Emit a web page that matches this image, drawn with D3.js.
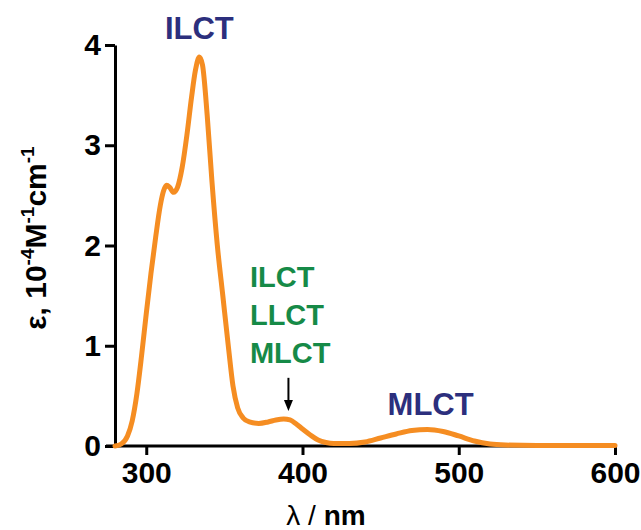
<!DOCTYPE html>
<html>
<head>
<meta charset="utf-8">
<script src="https://cdn.jsdelivr.net/npm/d3@7"></script>
<style>
  html, body { margin: 0; padding: 0; background: #fff; }
  svg { display: block; font-family: "Liberation Sans", Arial, Helvetica, sans-serif; }
</style>
</head>
<body>
<svg id="chart" width="641" height="530"></svg>
<script>
// ---- data ----
const wavelength = [280, 284, 288, 291, 294, 297, 300, 303, 306, 309, 311, 313, 315, 317.5, 320, 323, 326, 329, 331.5, 334, 336, 339, 342, 345.5, 349, 352.5, 355.5, 358.5, 362, 366, 372, 378, 383, 388, 392, 396, 400, 405, 410, 415, 420, 430, 440, 450, 460, 470, 480, 490, 500, 510, 520, 530, 550, 600];
const epsilon    = [0.00, 0.02, 0.10, 0.25, 0.52, 0.90, 1.32, 1.72, 2.08, 2.40, 2.54, 2.60, 2.58, 2.53, 2.58, 2.78, 3.10, 3.48, 3.75, 3.88, 3.80, 3.30, 2.65, 2.00, 1.50, 1.00, 0.60, 0.38, 0.28, 0.24, 0.225, 0.24, 0.26, 0.27, 0.26, 0.22, 0.17, 0.11, 0.06, 0.035, 0.025, 0.025, 0.04, 0.08, 0.12, 0.155, 0.165, 0.145, 0.10, 0.05, 0.02, 0.01, 0.005, 0.005];

const xTicks = [300, 400, 500, 600];
const yTicks = [0, 1, 2, 3, 4];

const blueLabels  = [{text: "ILCT", x: 334, y: 4.06}, {text: "MLCT", x: 482, y: 0.31}];
const greenLines  = ["ILCT", "LLCT", "MLCT"];
const greenAnchor = {x: 367, y: 1.59};
const arrowData   = {x: 391, from: 0.68, to: 0.35};

// ---- layout ----
const svg = d3.select("#chart");
const x = d3.scaleLinear().domain([280, 600]).range([115, 615]);
const y = d3.scaleLinear().domain([0, 4]).range([446, 45]);

const BLUE = "#2c2f7d", GREEN = "#168a47", ORANGE = "#f58d22";

// axes
const xAxis = svg.append("g").attr("transform", `translate(0,${y(0)})`)
  .call(d3.axisBottom(x).tickValues(xTicks).tickFormat(d3.format("d")).tickSize(9).tickPadding(7).tickSizeOuter(0));
const yAxis = svg.append("g").attr("transform", `translate(${x(280)},0)`)
  .call(d3.axisLeft(y).tickValues(yTicks).tickFormat(d3.format("d")).tickSize(10).tickPadding(4).tickSizeOuter(0));

[xAxis, yAxis].forEach(g => {
  g.select(".domain").attr("stroke", "#000").attr("stroke-width", 3);
  g.selectAll(".tick line").attr("stroke", "#000").attr("stroke-width", 3);
  g.selectAll(".tick text").attr("fill", "#000").attr("font-size", 30).attr("font-weight", "bold")
    .attr("font-family", "'Liberation Sans', Arial, sans-serif");
});
xAxis.select(".domain").attr("d", `M${x(280) - 9},0H${x(600)}`);
xAxis.selectAll(".tick text").attr("dy", "0.71em");

// curve
const pts = wavelength.map((w, i) => [w, epsilon[i]]);
svg.append("path")
  .datum(pts)
  .attr("fill", "none")
  .attr("stroke", ORANGE)
  .attr("stroke-width", 5)
  .attr("stroke-linejoin", "round")
  .attr("stroke-linecap", "round")
  .attr("d", d3.line().x(d => x(d[0])).y(d => y(d[1])).curve(d3.curveMonotoneX));

// blue labels
svg.selectAll(".blue").data(blueLabels).join("text")
  .attr("x", d => x(d.x)).attr("y", d => y(d.y))
  .attr("text-anchor", "middle")
  .attr("font-size", 31).attr("font-weight", "bold").attr("fill", BLUE)
  .text(d => d.text);

// green labels
svg.selectAll(".green").data(greenLines).join("text")
  .attr("x", x(greenAnchor.x) - 1)
  .attr("y", (d, i) => y(greenAnchor.y) + i * 38.3)
  .attr("font-size", 29).attr("font-weight", "bold").attr("fill", GREEN)
  .text(d => d);

// arrow
const ax = x(arrowData.x);
svg.append("line").attr("x1", ax).attr("x2", ax)
  .attr("y1", y(arrowData.from)).attr("y2", y(arrowData.to) - 8)
  .attr("stroke", "#000").attr("stroke-width", 2);
svg.append("path")
  .attr("d", `M${ax - 4.5},${y(arrowData.to) - 11}L${ax + 4.5},${y(arrowData.to) - 11}L${ax},${y(arrowData.to)}Z`)
  .attr("fill", "#000");

// x title
const xt = svg.append("text").attr("x", 326).attr("y", 525).attr("text-anchor", "middle")
  .attr("font-size", 28).attr("fill", "#000");
xt.append("tspan").attr("font-weight", "normal").text("λ / ");
xt.append("tspan").attr("font-weight", "bold").text("nm");

// y title
const yt = svg.append("text")
  .attr("transform", "translate(46,238) rotate(-90)")
  .attr("text-anchor", "middle")
  .attr("font-size", 30).attr("font-weight", "bold").attr("fill", "#000");
yt.append("tspan").text("ε, 10");
yt.append("tspan").attr("font-size", 19).attr("dy", -12).text("-4");
yt.append("tspan").attr("dy", 12).text("M");
yt.append("tspan").attr("font-size", 19).attr("dy", -12).text("-1");
yt.append("tspan").attr("dy", 12).text("cm");
yt.append("tspan").attr("font-size", 19).attr("dy", -12).text("-1");
</script>
</body>
</html>
